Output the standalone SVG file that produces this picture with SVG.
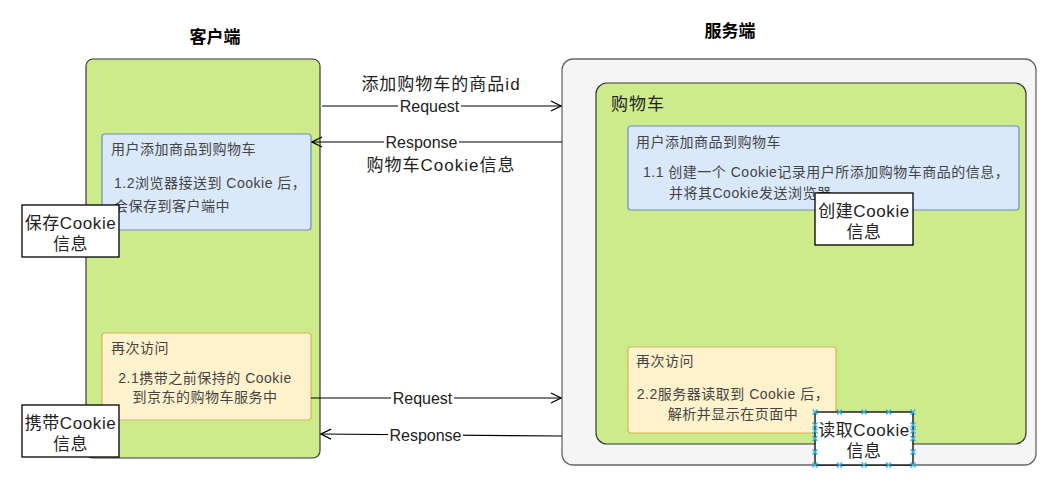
<svg xmlns="http://www.w3.org/2000/svg" width="1046" height="485" viewBox="0 0 1046 485">
<defs>
<marker id="open" viewBox="0 0 12 12" refX="11" refY="6" markerWidth="12" markerHeight="12" markerUnits="userSpaceOnUse" orient="auto">
<polyline points="1,1 11,6 1,11" fill="none" stroke="#000" stroke-width="1.3"/>
</marker>
<g id="xm"><path d="M-2.5,-2.5 L2.5,2.5 M-2.5,2.5 L2.5,-2.5" stroke="#29b6f2" stroke-width="1.3"/></g>
</defs>
<style>
text{font-family:"Liberation Sans","Noto Sans CJK SC",sans-serif;fill:#333}
.title{font-size:17px;font-weight:bold;fill:#000}
.lbl{font-size:17px;fill:#222;letter-spacing:1px}
.edge{font-size:16px;fill:#222}
.small{font-size:14px;fill:#444;letter-spacing:0.5px}
.note{font-size:17px;fill:#222;letter-spacing:0.6px}
.green{fill:#cdeb8b;stroke:#36393d;stroke-width:1.2}
.blue{fill:#dae8fc;stroke:#6c8ebf;stroke-width:1.2}
.yellow{fill:#fff2cc;stroke:#d6b656;stroke-width:1.2}
.white{fill:#fff;stroke:#000;stroke-width:1.3}
.line{fill:none;stroke:#000;stroke-width:1.2}
.bg{fill:#fff}
</style>
<rect width="1046" height="485" fill="#fff"/>

<g id="client">
<text class="title" x="215" y="43" text-anchor="middle">客户端</text>
<rect class="green" x="86" y="59" width="234" height="399" rx="7"/>
</g>
<g id="client-add">
<rect class="blue" x="102" y="134" width="209" height="96" rx="3"/>
<text class="small" x="111" y="154">用户添加商品到购物车</text>
<text class="small" x="114" y="188">1.2浏览器接送到 Cookie 后，</text>
<text class="small" x="114" y="211">会保存到客户端中</text>
</g>
<g id="client-revisit">
<rect class="yellow" x="102" y="333" width="209" height="87" rx="3"/>
<text class="small" x="111" y="353">再次访问</text>
<text class="small" x="205" y="383" text-anchor="middle">2.1携带之前保持的 Cookie</text>
<text class="small" x="205" y="402" text-anchor="middle">到京东的购物车服务中</text>
</g>
<g id="save-cookie">
<rect class="white" x="22" y="205" width="97" height="52"/>
<text class="note" x="70.5" y="229" text-anchor="middle">保存Cookie</text>
<text class="note" x="70.5" y="250" text-anchor="middle">信息</text>
</g>
<g id="carry-cookie">
<rect class="white" x="22" y="405" width="97" height="52"/>
<text class="note" x="70.5" y="429" text-anchor="middle">携带Cookie</text>
<text class="note" x="70.5" y="450" text-anchor="middle">信息</text>
</g>

<g id="server">
<text class="title" x="730" y="37" text-anchor="middle">服务端</text>
<rect x="562" y="59" width="474" height="406" rx="11" fill="#f5f5f5" stroke="#666" stroke-width="1.3"/>
</g>
<g id="cart">
<rect class="green" x="596" y="83" width="430" height="361" rx="11"/>
<text class="lbl" x="611" y="110">购物车</text>
</g>
<g id="server-add">
<rect class="blue" x="628" y="126" width="391" height="84" rx="3"/>
<text class="small" x="636" y="147">用户添加商品到购物车</text>
<text class="small" x="643" y="177">1.1 创建一个 Cookie记录用户所添加购物车商品的信息，</text>
<text class="small" x="669" y="198">并将其Cookie发送浏览器</text>
</g>
<g id="create-cookie">
<rect class="white" x="815" y="193" width="98" height="52"/>
<text class="note" x="864" y="217" text-anchor="middle">创建Cookie</text>
<text class="note" x="864" y="238" text-anchor="middle">信息</text>
</g>
<g id="server-revisit">
<rect class="yellow" x="628" y="347" width="208" height="86" rx="3"/>
<text class="small" x="636" y="366">再次访问</text>
<text class="small" x="733" y="399" text-anchor="middle">2.2服务器读取到 Cookie 后，</text>
<text class="small" x="733" y="419" text-anchor="middle">解析并显示在页面中</text>
</g>
<g id="read-cookie">
<rect class="white" x="815" y="412" width="98" height="53"/>
<text class="note" x="864" y="436" text-anchor="middle">读取Cookie</text>
<text class="note" x="864" y="457" text-anchor="middle">信息</text>
<use href="#xm" x="815" y="412"/><use href="#xm" x="839.5" y="412"/><use href="#xm" x="864" y="412"/><use href="#xm" x="888.5" y="412"/><use href="#xm" x="913" y="412"/>
<use href="#xm" x="815" y="465"/><use href="#xm" x="839.5" y="465"/><use href="#xm" x="864" y="465"/><use href="#xm" x="888.5" y="465"/><use href="#xm" x="913" y="465"/>
<use href="#xm" x="815" y="425"/><use href="#xm" x="815" y="438.5"/><use href="#xm" x="815" y="452"/><use href="#xm" x="815" y="431"/>
<use href="#xm" x="913" y="425"/><use href="#xm" x="913" y="438.5"/><use href="#xm" x="913" y="452"/><use href="#xm" x="913" y="431"/>
</g>

<g id="connectors">
<path class="line" d="M322,106 L561,106" marker-end="url(#open)"/>
<rect class="bg" x="398" y="97" width="63" height="18"/>
<text class="edge" x="429.5" y="112" text-anchor="middle">Request</text>
<text class="lbl" x="441" y="90" text-anchor="middle">添加购物车的商品id</text>

<path class="line" d="M562,142 L312,142" marker-end="url(#open)"/>
<rect class="bg" x="384" y="133" width="75" height="18"/>
<text class="edge" x="421.5" y="148" text-anchor="middle">Response</text>
<text class="lbl" x="441" y="171" text-anchor="middle">购物车Cookie信息</text>

<path class="line" d="M311,398 L561,398" marker-end="url(#open)"/>
<rect class="bg" x="391" y="389" width="63" height="18"/>
<text class="edge" x="422.5" y="404" text-anchor="middle">Request</text>

<path class="line" d="M562,436 L321,434" marker-end="url(#open)"/>
<rect class="bg" x="388" y="426" width="75" height="18"/>
<text class="edge" x="425.5" y="441" text-anchor="middle">Response</text>
</g>
</svg>
